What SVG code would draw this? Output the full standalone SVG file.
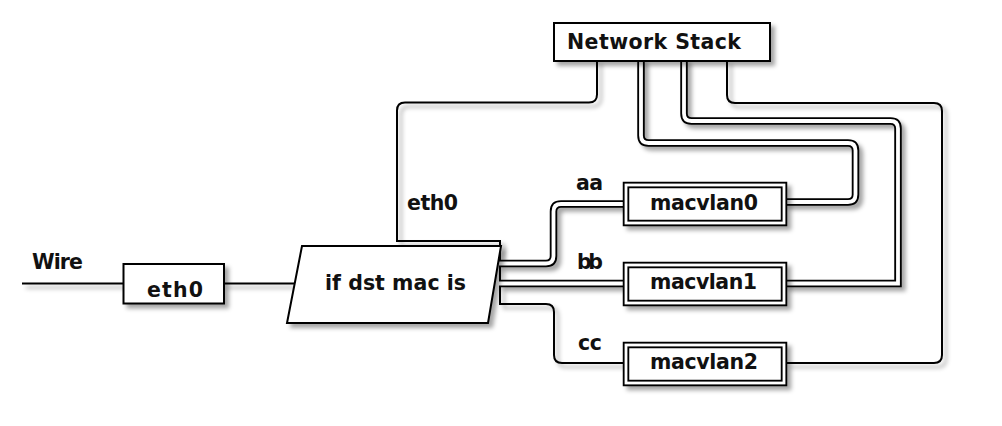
<svg xmlns="http://www.w3.org/2000/svg" width="1002" height="426" viewBox="0 0 1002 426">
  <defs>
    <filter id="sh" filterUnits="userSpaceOnUse" x="0" y="0" width="1002" height="426">
      <feGaussianBlur in="SourceAlpha" stdDeviation="2.2" result="b"/>
      <feOffset in="b" dx="4" dy="4" result="o"/>
      <feFlood flood-color="#000" flood-opacity="0.35"/>
      <feComposite in2="o" operator="in" result="s"/>
      <feMerge>
        <feMergeNode in="s"/>
        <feMergeNode in="SourceGraphic"/>
      </feMerge>
    </filter>
  </defs>
  <style>
    .s { fill: none; stroke: #000; stroke-width: 2; }
    .dk { fill: none; stroke: #000; stroke-width: 7.5; }
    .dw { fill: none; stroke: #fff; stroke-width: 3.8; }
    .box { fill: #fff; stroke: #000; stroke-width: 2; }
    .dbk { fill: #fff; stroke: #000; stroke-width: 6.5; }
    .dbw { fill: none; stroke: #fff; stroke-width: 2.8; }
    .t { font-family: "DejaVu Sans", "Liberation Sans", sans-serif; font-weight: bold; font-size: 20.5px; fill: #111; }
  </style>
  <rect width="1002" height="426" fill="#fff"/>

  <g id="connectors" filter="url(#sh)">
    <path class="s" d="M22,283.5 H124"/>
    <path class="s" d="M223,283.5 H296"/>
    <path class="s" d="M597,60 V94.5 Q597,102.5 589,102.5 H405 Q397,102.5 397,110.5 V241 H500 V304 H546 Q554,304 554,312 V355 Q554,363 562,363 H624"/>
    <path class="s" d="M727,60 V95 Q727,103 735,103 H934 Q942,103 942,111 V355 Q942,363 934,363 H786"/>
    <path class="dk" d="M500,263.5 H546 Q553.5,263.5 553.5,256 V211.5 Q553.5,204 561,204 H624"/>
    <path class="dk" d="M500,283.5 H624"/>
    <path class="dk" d="M641,60 V135.5 Q641,143 648.5,143 H848 Q855.5,143 855.5,150.5 V194.5 Q855.5,202 848,202 H786"/>
    <path class="dk" d="M684,60 V113.5 Q684,121 691.5,121 H890.5 Q898,121 898,128.5 V283.5 H786"/>
    <path class="dw" d="M497,263.5 H546 Q553.5,263.5 553.5,256 V211.5 Q553.5,204 561,204 H626"/>
    <path class="dw" d="M497,283.5 H626"/>
    <path class="dw" d="M641,58 V135.5 Q641,143 648.5,143 H848 Q855.5,143 855.5,150.5 V194.5 Q855.5,202 848,202 H784"/>
    <path class="dw" d="M684,58 V113.5 Q684,121 691.5,121 H890.5 Q898,121 898,128.5 V283.5 H784"/>
  </g>

  <g id="network-stack">
    <rect class="box" filter="url(#sh)" x="554" y="23" width="216" height="38"/>
    <text class="t" x="567" y="49" textLength="174">Network Stack</text>
  </g>

  <g id="wire-label">
    <text class="t" x="32" y="269" textLength="51">Wire</text>
  </g>

  <g id="eth0">
    <rect class="box" filter="url(#sh)" x="123.5" y="264" width="100.5" height="39.5"/>
    <text class="t" x="147" y="297" textLength="56">eth0</text>
  </g>

  <g id="eth0-label">
    <text class="t" x="407" y="210" textLength="51">eth0</text>
  </g>

  <g id="switch">
    <polygon class="box" filter="url(#sh)" points="302,246 501,246 488,323 287,323"/>
    <text class="t" x="325" y="290" textLength="141">if dst mac is</text>
  </g>

  <g id="labels">
    <text class="t" x="576" y="190" textLength="27">aa</text>
    <text class="t" x="577" y="269" textLength="26">bb</text>
    <text class="t" x="578" y="350" textLength="24">cc</text>
  </g>

  <g id="macvlan0">
    <rect class="dbk" filter="url(#sh)" x="626" y="185" width="158" height="38"/>
    <rect class="dbw" x="626" y="185" width="158" height="38"/>
    <text class="t" x="650" y="210" textLength="108">macvlan0</text>
  </g>

  <g id="macvlan1">
    <rect class="dbk" filter="url(#sh)" x="626" y="265" width="158" height="38"/>
    <rect class="dbw" x="626" y="265" width="158" height="38"/>
    <text class="t" x="650" y="289" textLength="107">macvlan1</text>
  </g>

  <g id="macvlan2">
    <rect class="dbk" filter="url(#sh)" x="626" y="345" width="158" height="38"/>
    <rect class="dbw" x="626" y="345" width="158" height="38"/>
    <text class="t" x="650" y="369" textLength="108">macvlan2</text>
  </g>
</svg>
